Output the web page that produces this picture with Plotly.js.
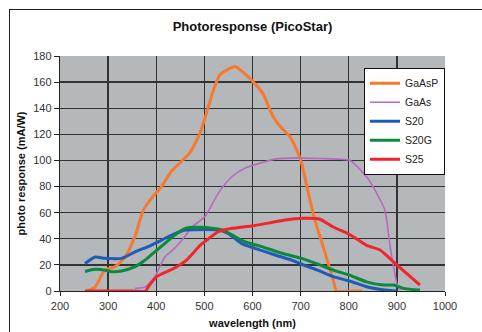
<!DOCTYPE html>
<html>
<head>
<meta charset="utf-8">
<script src="https://cdn.plot.ly/plotly-3.0.1.min.js"></script>
<style>
html,body{margin:0;padding:0;background:#fff;}
#frame{position:absolute;left:9px;top:9px;width:600px;height:600px;border-left:1.5px solid #222;border-top:1.5px solid #222;pointer-events:none;z-index:5;}
#chart{position:absolute;left:0;top:0;width:482px;height:332px;}
</style>
</head>
<body>
<div id="chart"></div>
<div id="frame"></div>
<script>
// GaAsP
const gaaspX = [255, 273, 293, 314, 335, 356, 373, 390, 411, 432, 449, 470, 491, 505, 519, 532, 550, 564, 582, 602, 622, 643, 661, 678, 692, 702, 709, 713, 730, 751, 768, 775, 800, 828];
const gaaspY = [0, 3, 16, 18.6, 26, 42, 62, 71, 80, 92, 98, 106, 121, 137, 154, 165.5, 170, 172, 167, 160, 151, 133.5, 124.6, 118, 108, 98, 87, 80, 54, 29, 8, 0, 0, 0];
// GaAs
const gaasX = [356, 377, 397, 418, 439, 460, 474, 501, 529, 557, 584, 626, 647, 695, 740, 780, 803, 837, 858, 875, 886, 893, 900, 907];
const gaasY = [2, 3, 11, 26, 33, 42, 49, 57, 75, 87.5, 94, 99, 101, 102, 101.5, 101, 100, 87.5, 75, 62, 34, 18.6, 6, 1];
// S20
const s20X = [252, 273, 293, 328, 356, 383, 411, 439, 460, 481, 529, 550, 577, 605, 647, 681, 702, 735, 768, 803, 837, 871, 900];
const s20Y = [21, 26, 25, 25, 30, 34, 39, 44, 46.7, 47, 46.7, 44, 36.5, 32.7, 27.6, 23.7, 20.5, 16, 11, 7.5, 3.3, 1, 0];
// S20G
const s20gX = [252, 273, 293, 307, 328, 356, 377, 397, 418, 439, 460, 494, 536, 557, 584, 619, 661, 702, 733, 768, 803, 837, 872, 893, 913, 948];
const s20gY = [15, 16.6, 16, 14.8, 15.3, 18.6, 23.7, 30, 36.5, 43, 48, 48.8, 47, 43, 37.8, 34, 28.9, 25, 21, 16, 12, 7, 4.6, 4.6, 2, 0.7];
// S25
const s25X = [252, 300, 350, 378, 383, 401, 435, 463, 491, 501, 529, 557, 598, 633, 668, 706, 740, 768, 803, 837, 865, 893, 920, 948];
const s25Y = [0, 0, 0, 0, 3, 11, 17, 23.7, 35, 37.8, 45.4, 48, 49.8, 52, 54.4, 55.7, 55, 49, 43, 35, 31.4, 22.4, 13.5, 4.6];

const names = ["GaAsP", "GaAs", "S20", "S20G", "S25"];
const xs = [gaaspX, gaasX, s20X, s20gX, s25X];
const ys = [gaaspY, gaasY, s20Y, s20gY, s25Y];
const colors = ["#f8782c", "#b968c0", "#1f5bb8", "#0b8a3e", "#f0262c"];
const widths = [3, 1.6, 3, 3, 3];

const traces = names.map((n, i) => ({
  x: xs[i], y: ys[i], name: n, type: "scatter", mode: "lines",
  line: {color: colors[i], width: widths[i], shape: "spline", smoothing: 0.6}
}));

const font = {family: "Liberation Sans, Arial, sans-serif", color: "#222"};

const layout = {
  width: 482, height: 332,
  margin: {l: 60, r: 37, t: 56, b: 41},
  paper_bgcolor: "rgba(0,0,0,0)",
  plot_bgcolor: "#b4b8bb",
  showlegend: true,
  font: font,
  title: {text: "<b>Photoresponse (PicoStar)</b>", font: {family: font.family, size: 13, color: "#111"},
          x: 0.5, xref: "paper", xanchor: "center", y: 0.92, yref: "container", yanchor: "middle"},
  xaxis: {
    range: [200, 1000], dtick: 100, tick0: 200,
    showgrid: true, gridcolor: "#333", gridwidth: 1.3,
    zeroline: false, showline: true, linecolor: "#222", linewidth: 1.3,
    ticks: "outside", ticklen: 4, tickcolor: "#222",
    tickfont: {family: font.family, size: 11, color: "#333"},
    title: {text: "<b>wavelength (nm)</b>", font: {family: font.family, size: 11, color: "#111"}, standoff: 8}
  },
  yaxis: {
    range: [0, 180], dtick: 20,
    showgrid: true, gridcolor: "#333", gridwidth: 1.3,
    zeroline: false, showline: true, linecolor: "#222", linewidth: 1.3,
    ticks: "outside", ticklen: 5, tickcolor: "#222",
    tickfont: {family: font.family, size: 11, color: "#333"},
    title: {text: "<b>photo response (mA/W)</b>", font: {family: font.family, size: 11, color: "#111"}, standoff: 5}
  },
  legend: {
    x: 1, xanchor: "right", y: 0.95, yanchor: "top",
    bgcolor: "#ffffff", bordercolor: "#111", borderwidth: 1,
    font: {family: font.family, size: 10.5, color: "#222"},
    itemwidth: 30, tracegroupgap: 0
  }
};

Plotly.newPlot("chart", traces, layout, {displayModeBar: false, staticPlot: true});
</script>
</body>
</html>
